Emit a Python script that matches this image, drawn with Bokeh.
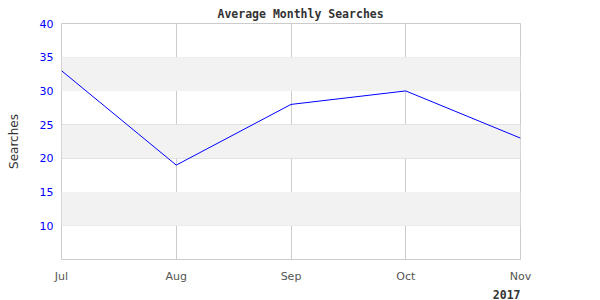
from bokeh.plotting import figure
from bokeh.models import Range1d, FixedTicker, BoxAnnotation, Title
from bokeh.embed import file_html
from bokeh.resources import INLINE

months = ["Jul", "Aug", "Sep", "Oct", "Nov"]
searches = [33, 19, 28, 30, 23]
y_ticks = [10, 15, 20, 25, 30, 35, 40]
bands = [(10, 15), (20, 25), (30, 35)]
title_text = "Average Monthly Searches"
year_text = "2017"

x = list(range(len(months)))

p = figure(width=600, height=300, output_backend="svg", toolbar_location=None,
           x_range=Range1d(0, len(months) - 1), y_range=Range1d(5, 40),
           min_border_left=61, min_border_right=80, min_border_top=23, min_border_bottom=40)
p.outline_line_color = "#cccccc"
p.background_fill_color = "white"
p.border_fill_color = "white"

p.title.text = title_text
p.title.text_font = "DejaVu Sans Mono"
p.title.text_font_style = "bold"
p.title.text_font_size = "11.5px"
p.title.text_color = "#333333"
p.title.align = "left"
p.title.offset = 156
p.title.standoff = 6

p.add_layout(Title(text=year_text, text_font="DejaVu Sans Mono", text_font_style="bold",
                   text_font_size="11.5px", text_color="#333333", align="right",
                   offset=0, standoff=4), "below")

for lo, hi in bands:
    p.add_layout(BoxAnnotation(bottom=lo, top=hi, fill_color="#f2f2f2", fill_alpha=1.0,
                               line_alpha=0, level="underlay"))

p.line(x, searches, line_color="#0000ff", line_width=1)

p.xaxis.ticker = FixedTicker(ticks=x)
p.xaxis.major_label_overrides = {i: m for i, m in enumerate(months)}
p.yaxis.ticker = FixedTicker(ticks=y_ticks)

for ax in (p.xaxis[0], p.yaxis[0]):
    ax.axis_line_color = None
    ax.major_tick_line_color = None
    ax.minor_tick_line_color = None
    ax.major_tick_out = 0
    ax.major_tick_in = 0
    ax.minor_tick_out = 0
    ax.minor_tick_in = 0
    ax.major_label_text_font = "DejaVu Sans"
    ax.major_label_text_font_size = "11px"

p.yaxis.major_label_text_color = "#0000ff"
p.xaxis.major_label_text_color = "#555555"
p.yaxis.major_label_standoff = 8
p.xaxis.major_label_standoff = 10

p.yaxis.axis_label = "Searches"
p.yaxis.axis_label_text_font = "DejaVu Sans"
p.yaxis.axis_label_text_font_size = "12px"
p.yaxis.axis_label_text_font_style = "normal"
p.yaxis.axis_label_text_color = "#333333"
p.yaxis.axis_label_standoff = 16

p.xgrid.grid_line_color = "#cccccc"
p.ygrid.grid_line_color = "#dddddd"
p.xgrid.level = "underlay"
p.ygrid.level = "underlay"

open("out.html", "w").write(file_html(p, INLINE))
